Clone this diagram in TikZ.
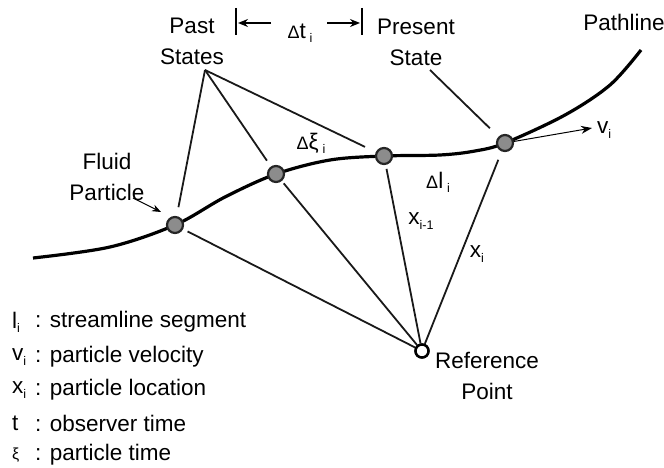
\documentclass[tikz,border=0pt]{standalone}
\usepackage{fontspec}
\setmainfont{Liberation Sans}
\usetikzlibrary{arrows.meta}
\newcommand\mysub[1]{\raisebox{-0.35ex}{\fontsize{12.5}{12.5}\selectfont #1}}
\newcommand\mydelta{{\fontsize{18}{18}\selectfont Δ}}
\begin{document}
\begin{tikzpicture}[x=1pt,y=-1pt,
  lbl/.style={font=\fontsize{22.5}{31}\selectfont, inner sep=0pt, align=center},
  particle/.style={circle, draw=black!85, fill=black!45, line width=2.2pt, minimum size=16pt, inner sep=0pt},
  refpt/.style={circle, draw=black, fill=white, line width=2.4pt, minimum size=13pt, inner sep=0pt},
  thin line/.style={line width=1.8pt, black!90},
  path line/.style={line width=3.2pt, black},
  tip/.style={-{Stealth[length=11pt,width=8pt]}, line width=1pt}]
\useasboundingbox (0,0) rectangle (664,468);
% pathline
\draw[path line] plot[smooth, tension=0.55] coordinates {(33,258) (110,247) (175,225) (225,197) (276,174) (330,160) (384,156) (440,155) (475,151) (505,143) (565,115) (610,85) (641,50)};
% particles
\node[particle] (p1) at (175,225) {};
\node[particle] (p2) at (276,174) {};
\node[particle] (p3) at (384,156) {};
\node[particle] (p4) at (505,143) {};
\node[refpt] (ref) at (422,351) {};
% apex coordinates
\coordinate (past) at (205,70);
\coordinate (pres) at (430,70);
% past states lines
\draw[thin line, shorten >=9pt] (past) -- (p1);
\draw[thin line, shorten >=7pt] (past) -- (p2);
\draw[thin line, shorten >=12pt] (past) -- (p3);
\draw[thin line, shorten >=12pt] (pres) -- (p4);
% reference lines
\draw[thin line, shorten <=5pt] (p1) -- (ref);
\draw[thin line, shorten <=3pt] (p2) -- (ref);
\draw[thin line, shorten <=4pt] (p3) -- (ref);
\draw[thin line, shorten <=9pt] (p4) -- (ref);
\node[refpt] at (ref) {};
% velocity arrow
\coordinate (vtip) at (592,128);
\draw[tip] (p4) -- (vtip);
\node[lbl, anchor=west] (vlab) at (597,130) {v\mysub{i}};
% fluid particle
\node[lbl] (fp) at (107,177) {Fluid\\Particle};
\coordinate (fa) at (133,198);
\coordinate (fb) at (161,212);
\draw[tip, -{Stealth[length=9pt,width=7pt]}] (fa) -- (fb);
% labels
\node[lbl] (pastlab) at (192,41) {Past\\States};
\node[lbl] (preslab) at (416,42) {Present\\State};
\node[lbl] (pathlab) at (624,22) {Pathline};
\node[lbl] (dxi) at (311,143) {\mydelta ξ\,\mysub{i}};
\node[lbl] (dl) at (438,182) {\mydelta l\,\mysub{i}};
\node[lbl] (xim) at (421,221) {x\mysub{i-1}};
\node[lbl] (xi) at (477,254) {x\mysub{i}};
\node[lbl] (reflab) at (487,376) {Reference\\Point};
% delta t
\coordinate (b1t) at (236,8); \coordinate (b1b) at (236,35);
\coordinate (b2t) at (362,8); \coordinate (b2b) at (362,35);
\draw[line width=1.5pt] (b1t) -- (b1b);
\draw[line width=1.5pt] (b2t) -- (b2b);
\coordinate (a1) at (271,23); \coordinate (a1e) at (238,23);
\coordinate (a2) at (327,23); \coordinate (a2e) at (360,23);
\draw[tip, line width=1.3pt, -{Stealth[length=10pt,width=8pt]}] (a1) -- (a1e);
\draw[tip, line width=1.3pt, -{Stealth[length=10pt,width=8pt]}] (a2) -- (a2e);
\node[lbl] (dt) at (300,33) {\mydelta t\,\mysub{i}};
% legend symbols
\node[lbl, anchor=west] (s1) at (12,322) {l\mysub{i}};
\node[lbl, anchor=west] (s2) at (12,357) {v\mysub{i}};
\node[lbl, anchor=west] (s3) at (12,390) {x\mysub{i}};
\node[lbl, anchor=west] (s4) at (12,423) {t};
\node[lbl, anchor=west] (s5) at (12,455) {{\fontsize{16}{16}\selectfont ξ}};
% legend texts
\node[lbl, anchor=west] (l1) at (35,322) {: streamline segment};
\node[lbl, anchor=west] (l2) at (35,357) {: particle velocity};
\node[lbl, anchor=west] (l3) at (35,390) {: particle location};
\node[lbl, anchor=west] (l4) at (35,423) {: observer time};
\node[lbl, anchor=west] (l5) at (35,455) {: particle time};
\end{tikzpicture}
\end{document}
